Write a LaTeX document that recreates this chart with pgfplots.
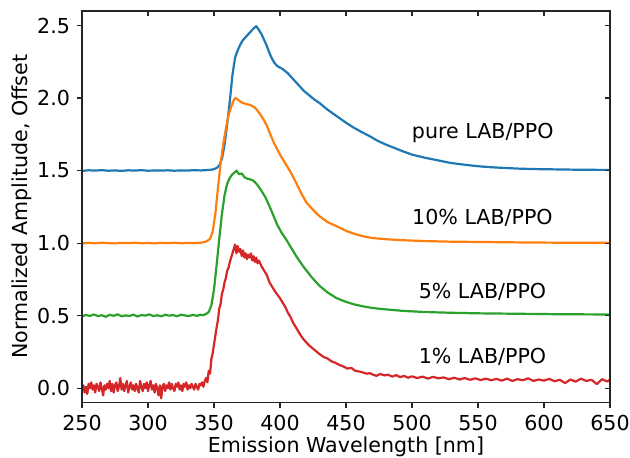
\documentclass[border=0pt]{standalone}
\usepackage{fontspec}
\setmainfont{DejaVu Sans}
\usepackage{pgfplots}
\pgfplotsset{compat=1.18}

\definecolor{c0}{HTML}{1F77B4}
\definecolor{c1}{HTML}{FF7F0E}
\definecolor{c2}{HTML}{2CA02C}
\definecolor{c3}{HTML}{D62728}
\newcommand{\fs}{\fontsize{10.3bp}{12.4bp}\selectfont}

\pgfplotsset{
  spec/.style={
    scale only axis, width=264bp, height=195.85bp,
    xmin=250, xmax=650, ymin=-0.1, ymax=2.6,
    xtick={250,300,...,650}, ytick={0,0.5,...,2.5},
    major tick length=2.5bp,
    axis line style={line width=0.6bp, black!85},
    tick style={line width=0.6bp, black!85},
    clip=true,
  },
}

\begin{document}
\begin{tikzpicture}
\useasboundingbox (-41bp,-27.5bp) rectangle (274bp,201.35bp);
\begin{axis}[spec,
  tick align=outside, xtick pos=bottom, ytick pos=left,
  ticklabel style={font=\fs},
  /pgf/number format/assume math mode=true,
  yticklabel style={/pgf/number format/fixed, /pgf/number format/fixed zerofill, /pgf/number format/precision=1},
  xlabel={Emission Wavelength [nm]},
  ylabel={Normalized Amplitude, Offset},
  every axis x label/.style={at={(axis description cs:0.5,0)}, yshift=-25bp, anchor=base, font=\fs},
  every axis y label/.style={at={(axis description cs:0,0.5)}, xshift=-30bp, rotate=90, anchor=center, font=\fs},
  every axis plot/.append style={line width=1.1bp, line join=round},
]
% pure LAB/PPO, offset 1.5
\addplot[c0] coordinates {
(250,1.498) (255,1.502) (260,1.500) (265,1.503) (270,1.499) (275,1.501) (280,1.498)
(285,1.502) (290,1.500) (295,1.503) (300,1.499) (305,1.501) (310,1.500) (315,1.502)
(320,1.499) (325,1.501) (330,1.500) (335,1.503) (340,1.501) (345,1.504) (348,1.506)
(350,1.510) (352,1.518) (354,1.535) (356,1.58) (358,1.68) (360,1.82) (362,1.98)
(364,2.16) (366,2.28) (368,2.33) (370,2.37) (372,2.40) (374,2.42) (376,2.44)
(378,2.46) (380,2.48) (382,2.495) (384,2.47) (386,2.44) (388,2.40) (390,2.36)
(392,2.31) (394,2.27) (396,2.24) (398,2.22) (400,2.21) (402,2.20) (404,2.185)
(406,2.17) (410,2.13) (414,2.09) (418,2.05) (422,2.02) (426,1.99) (430,1.965)
(436,1.92) (443,1.875) (450,1.83) (456,1.795) (462,1.765) (468,1.737) (474,1.705)
(480,1.68) (487,1.655) (493,1.633) (500,1.61) (510,1.588) (520,1.57) (529,1.553)
(540,1.54) (550,1.53) (560,1.523) (570,1.518) (582,1.513) (595,1.510) (610,1.508)
(625,1.506) (640,1.505) (650,1.505)
};
% 10% LAB/PPO, offset 1.0
\addplot[c1] coordinates {
(250,0.998) (255,1.002) (260,0.999) (265,1.003) (270,1.000) (275,0.998) (280,1.002)
(285,1.000) (290,1.003) (295,0.999) (300,1.001) (305,0.998) (310,1.002) (315,1.000)
(320,1.003) (325,0.999) (330,1.001) (335,1.000) (340,1.003) (343,1.008) (345,1.015)
(347,1.03) (349,1.08) (351,1.20) (353,1.38) (355,1.55) (357,1.68) (359,1.79)
(361,1.88) (363,1.94) (365,1.985) (366,2.00) (368,1.99) (370,1.975) (372,1.965)
(374,1.96) (376,1.955) (378,1.95) (380,1.94) (382,1.925) (384,1.90) (386,1.875)
(388,1.845) (390,1.81) (392,1.765) (394,1.72) (396,1.68) (398,1.645) (400,1.61)
(404,1.55) (408,1.49) (412,1.42) (416,1.345) (420,1.28) (425,1.23) (430,1.185)
(436,1.145) (443,1.116) (450,1.085) (456,1.065) (463,1.047) (470,1.035) (480,1.027)
(493,1.020) (510,1.014) (529,1.010) (550,1.008) (580,1.005) (610,1.003) (650,1.002)
};
% 5% LAB/PPO, offset 0.5
\addplot[c2] coordinates {
(250,0.495) (253,0.505) (256,0.498) (259,0.508) (262,0.497) (265,0.503) (268,0.492)
(271,0.506) (274,0.499) (277,0.509) (280,0.496) (283,0.502) (286,0.498) (289,0.507)
(292,0.494) (295,0.504) (298,0.500) (301,0.509) (304,0.497) (307,0.503) (310,0.495)
(313,0.506) (316,0.500) (319,0.504) (322,0.496) (325,0.507) (328,0.501) (331,0.498)
(334,0.505) (337,0.499) (340,0.506) (342,0.503) (344,0.512) (346,0.525) (348,0.57)
(350,0.68) (352,0.85) (354,1.03) (356,1.20) (358,1.33) (360,1.41) (362,1.45)
(364,1.475) (366,1.49) (367,1.50) (369,1.475) (371,1.48) (373,1.455) (375,1.445)
(377,1.44) (379,1.435) (381,1.42) (383,1.40) (386,1.36) (389,1.315) (392,1.255)
(395,1.19) (398,1.125) (401,1.075) (405,1.02) (409,0.96) (413,0.90) (418,0.835)
(424,0.765) (430,0.705) (436,0.66) (443,0.62) (450,0.595) (456,0.578) (463,0.564)
(470,0.553) (478,0.545) (493,0.533) (510,0.525) (529,0.520) (550,0.516) (580,0.513)
(610,0.510) (650,0.508)
};
% 1% LAB/PPO, no offset
\addplot[c3] coordinates {
(250,-0.02) (251,0.02) (252,-0.03) (253,0.01) (254,-0.04) (255,0.03) (256,0.00)
(257,0.04) (258,-0.01) (259,0.02) (260,-0.03) (261,0.03) (262,0.01) (263,-0.02)
(264,0.04) (265,0.00) (266,-0.05) (267,0.02) (268,-0.01) (269,0.03) (270,0.00)
(271,0.05) (272,-0.02) (273,0.03) (274,-0.03) (275,0.02) (276,0.04) (277,-0.02)
(278,0.01) (279,0.07) (280,-0.01) (281,0.03) (282,-0.02) (283,0.02) (284,0.05)
(285,-0.03) (286,0.01) (287,0.04) (288,-0.01) (289,0.02) (290,-0.02) (291,0.03)
(292,0.00) (293,-0.03) (294,0.05) (295,0.01) (296,-0.02) (297,0.03) (298,0.00)
(299,0.04) (300,-0.02) (301,0.02) (302,0.05) (303,-0.01) (304,0.02) (305,-0.03)
(306,0.03) (307,0.00) (308,-0.05) (309,0.02) (310,-0.07) (311,0.01) (312,0.03)
(313,-0.02) (314,0.02) (315,0.00) (316,0.04) (317,-0.01) (318,0.03) (319,0.00)
(320,-0.02) (321,0.03) (322,0.01) (323,0.04) (324,-0.01) (325,0.02) (326,-0.02)
(327,0.03) (328,0.01) (329,0.04) (330,-0.01) (331,0.02) (332,0.00) (333,0.03)
(334,0.01) (335,-0.01) (336,0.03) (337,0.01) (338,-0.01) (339,0.03) (340,0.02)
(341,0.04) (342,0.01) (343,0.05) (344,0.07) (345,0.04)
(346,0.12) (347,0.10) (348,0.20) (349,0.24) (350,0.30) (351,0.36) (352,0.42)
(353,0.47) (354,0.55) (355,0.58) (356,0.65) (357,0.68) (358,0.73) (359,0.76)
(360,0.81) (361,0.83) (362,0.87) (363,0.90) (364,0.93) (365,0.96) (366,0.99)
(367,0.93) (368,0.98) (369,0.94) (370,0.96) (371,0.91) (372,0.95) (373,0.90)
(374,0.93) (375,0.89) (376,0.92) (377,0.90) (378,0.93) (379,0.88) (380,0.91)
(381,0.87) (382,0.90) (383,0.86) (384,0.88) (386,0.84) (388,0.81) (390,0.78)
(392,0.73) (394,0.70) (396,0.67) (398,0.645) (400,0.62) (402,0.59) (404,0.56)
(406,0.52) (408,0.49) (410,0.45) (412,0.42) (414,0.39) (416,0.36) (418,0.335)
(420,0.315) (422,0.295) (424,0.28) (426,0.265) (428,0.25) (430,0.235) (433,0.215)
(436,0.205) (439,0.185) (442,0.175) (445,0.16) (448,0.15) (451,0.135) (454,0.14)
(457,0.12) (460,0.115) (463,0.108) (466,0.10) (468,0.104) (470,0.095) (473,0.085)
(476,0.098) (479,0.088) (482,0.093) (485,0.080) (488,0.090) (491,0.076) (494,0.085)
(497,0.072) (500,0.082) (504,0.070) (508,0.080) (512,0.066) (516,0.078) (520,0.068)
(524,0.074) (528,0.062) (532,0.072) (536,0.060) (540,0.070) (544,0.058) (548,0.068)
(552,0.056) (556,0.066) (560,0.055) (564,0.064) (568,0.052) (572,0.066) (576,0.050)
(580,0.062) (584,0.055) (588,0.068) (592,0.050) (596,0.060) (600,0.052) (604,0.064)
(608,0.048) (612,0.058) (616,0.035) (620,0.060) (624,0.045) (628,0.066) (632,0.050)
(636,0.058) (640,0.028) (644,0.062) (648,0.046) (650,0.060)
};
\node[font=\fs] at (axis cs:553.6,1.762) {pure LAB/PPO};
\node[font=\fs] at (axis cs:553.4,1.172) {10\% LAB/PPO};
\node[font=\fs] at (axis cs:553.4,0.667) {5\% LAB/PPO};
\node[font=\fs] at (axis cs:553.4,0.219) {1\% LAB/PPO};
\end{axis}
% inward ticks on the top and right edges
\begin{axis}[spec,
  tick align=inside, xtick pos=top, ytick pos=right,
  xticklabels={}, yticklabels={},
]
\end{axis}
\end{tikzpicture}
\end{document}
